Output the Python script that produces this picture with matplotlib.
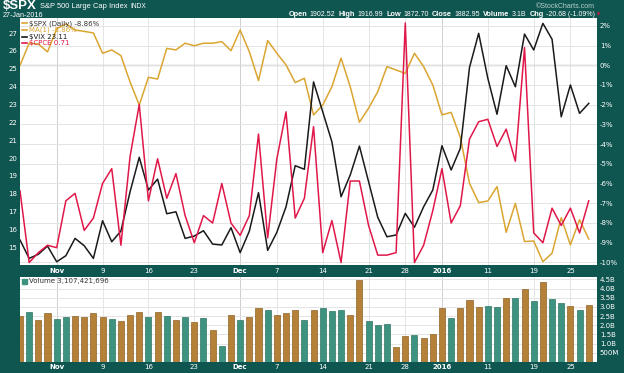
import numpy as np
import pandas as pd
import matplotlib
matplotlib.use("Agg")
import matplotlib.pyplot as plt

# ---- data ----
holidays = ["2015-11-26", "2015-12-25", "2016-01-01", "2016-01-18"]
dates = pd.bdate_range("2015-10-27", "2016-01-27")
dates = dates[~dates.isin(pd.to_datetime(holidays))]

# $SPX performance (%) since Oct 27
spx_pct = [0.0, 1.12, 1.08, 0.68, 1.85, 2.10, 1.79, 1.72, 1.64, 0.61,
           0.78, 0.49, -0.85, -2.02, -0.61, -0.70, 0.86, 0.78, 1.12, 0.99,
           1.12, 1.12, 1.20, 0.74, 1.79, 0.69, -0.78, 1.25, 0.61, 0.02,
           -0.88, -0.66, -2.52, -2.02, -1.09, 0.36, -1.09, -2.89, -2.18, -1.34,
           -0.07, -0.24, -0.41, 0.61, -0.07, -1.00, -2.52, -2.39, -3.66, -5.99,
           -6.97, -6.89, -6.16, -8.48, -7.01, -8.95, -8.92, -9.97, -9.54, -7.74,
           -9.12, -7.84, -8.82]

vix = [15.41, 14.38, 14.61, 15.07, 14.19, 14.53, 15.50, 15.09, 14.38, 16.49,
       15.31, 15.91, 18.11, 20.04, 18.21, 18.82, 16.88, 16.99, 15.50, 15.63,
       15.93, 15.18, 15.13, 16.10, 14.70, 15.91, 18.06, 14.83, 15.84, 17.27,
       19.57, 19.37, 24.26, 22.59, 20.91, 17.83, 19.05, 20.67, 18.67, 16.68,
       15.59, 15.69, 16.90, 16.12, 17.27, 18.21, 20.69, 19.33, 20.54, 25.07,
       26.98, 24.46, 22.45, 25.17, 23.99, 26.94, 26.05, 27.54, 26.65, 22.31,
       24.09, 22.50, 23.06]

cpce = [0.75, 0.46, 0.50, 0.53, 0.52, 0.71, 0.74, 0.59, 0.64, 0.78,
        0.84, 0.53, 0.89, 1.10, 0.71, 0.88, 0.72, 0.82, 0.65, 0.54,
        0.65, 0.62, 0.78, 0.62, 0.57, 0.65, 0.98, 0.56, 0.88, 1.07,
        0.64, 0.72, 1.01, 0.50, 0.63, 0.46, 0.79, 0.79, 0.61, 0.49,
        0.49, 0.50, 1.43, 0.46, 0.53, 0.67, 0.84, 0.62, 0.69, 0.96,
        1.03, 1.04, 0.93, 1.00, 0.87, 1.33, 0.58, 0.54, 0.68, 0.61,
        0.68, 0.58, 0.71]

# volume in billions, direction of the day (u = up, d = down)
volume_b = [2.51, 2.74, 2.29, 2.66, 2.35, 2.47, 2.51, 2.47, 2.67, 2.47,
            2.36, 2.24, 2.55, 2.74, 2.47, 2.74, 2.51, 2.29, 2.47, 2.20,
            2.40, 1.73, 0.86, 2.55, 2.31, 2.47, 2.93, 2.82, 2.58, 2.66,
            2.82, 2.29, 2.82, 2.95, 2.78, 2.82, 2.57, 4.47, 2.26, 2.04,
            2.08, 0.79, 1.42, 1.46, 1.30, 1.53, 2.93, 2.42, 2.93, 3.36,
            3.00, 3.07, 3.00, 3.49, 3.49, 3.99, 3.33, 4.34, 3.42, 3.22,
            3.04, 2.82, 3.13]
vol_dir = ["d", "u", "d", "d", "u", "u", "d", "d", "d", "d",
           "u", "d", "d", "d", "u", "d", "u", "d", "u", "d",
           "u", "d", "u", "d", "u", "d", "d", "u", "d", "d",
           "d", "u", "d", "u", "u", "u", "d", "d", "u", "u",
           "u", "d", "d", "u", "d", "d", "d", "u", "d", "d",
           "d", "u", "u", "d", "u", "d", "u", "d", "u", "u",
           "d", "u", "d"]

tick_dates = ["2015-11-02", "2015-11-09", "2015-11-16", "2015-11-23", "2015-12-01",
              "2015-12-07", "2015-12-14", "2015-12-21", "2015-12-28", "2016-01-04",
              "2016-01-11", "2016-01-19", "2016-01-25"]
tick_labels = ["Nov", "9", "16", "23", "Dec", "7", "14", "21", "28", "2016", "11", "19", "25"]
bold_labels = {"Nov", "Dec", "2016"}

header_stats = [("Open", "1902.52"), ("High", "1916.99"), ("Low", "1872.70"),
                ("Close", "1882.95"), ("Volume", "3.1B"), ("Chg", "-20.68 (-1.09%)")]

# ---- styling ----
BG = "#0f5550"
GOLD = "#dba531"
RED = "#e0184a"
BLACK = "#1a1a1a"
UP = "#3e9380"
DOWN = "#b58139"
GRID = "#e4e4e4"
HF = "Liberation Sans"

W, H = 624, 373
fig = plt.figure(figsize=(W / 100, H / 100), dpi=100, facecolor=BG)
renderer = fig.canvas.get_renderer()


def box(l, t, r, b):
    return [l / W, 1 - b / H, (r - l) / W, (b - t) / H]


def put(xp, yp, txt, **kw):
    # place text at pixel position, return its right edge in pixels
    t = fig.text(xp / W, 1 - yp / H, txt, va="center", ha="left", **kw)
    return t.get_window_extent(renderer).x1


x = np.arange(len(dates)) - 4
pos = {d.strftime("%Y-%m-%d"): xi for d, xi in zip(dates, x)}
tick_pos = [pos[d] for d in tick_dates]
xlim = (-4, 58.9)

# ---- main price panel ----
ax = fig.add_axes(box(20, 18, 597, 265))
ax.set_facecolor("white")
ax.set_xlim(*xlim)
ax.set_ylim(-10.14, 2.40)

ax_v = ax.twinx()
ax_v.set_ylim(14.01, 27.84)
ax_c = ax.twinx()
ax_c.set_ylim(0.45, 1.45)
ax_c.set_yticks([])

pct_ticks = list(range(2, -11, -1))
ax.yaxis.tick_right()
ax.set_yticks(pct_ticks)
ax.set_yticklabels([f"{t}%" for t in pct_ticks])
ax_v.yaxis.tick_left()
ax_v.set_yticks(range(15, 28))

ax.grid(True, axis="y", color=GRID, lw=0.7)
ax.axhline(0, color="#9a9a9a", lw=0.9, zorder=1)
for tp, tl in zip(tick_pos, tick_labels):
    ax.axvline(tp, color="#cfcfcf" if tl in bold_labels else GRID, lw=0.7, zorder=0)
ax.set_xticks(tick_pos)
ax.set_xticklabels(tick_labels)

ax.plot(x, spx_pct, color=GOLD, lw=1.1, zorder=3)
ax_v.plot(x, vix, color=BLACK, lw=1.1, zorder=4)
ax_c.plot(x, cpce, color=RED, lw=1.1, zorder=5)

for a in (ax, ax_v, ax_c):
    for s in a.spines.values():
        s.set_visible(False)
    a.tick_params(length=0, labelsize=5, labelcolor="white", pad=2)
ax.tick_params(axis="x", pad=2.5)

for lab in ax.get_xticklabels():
    if lab.get_text() in bold_labels:
        lab.set_fontweight("bold")

# legend
leg = [("$SPX (Daily) -8.86%", GOLD, "#333333"),
       ("MA(1) -8.86%", GOLD, GOLD),
       ("$VIX 23.11", BLACK, BLACK),
       ("$CPCE 0.71", RED, RED)]
for k, (txt, lc, tc) in enumerate(leg):
    yy = 23.3 + k * 6.6
    fig.add_artist(plt.Line2D([22 / W, 27 / W], [1 - yy / H] * 2, color=lc, lw=1.2))
    put(29, yy, txt, color=tc, fontsize=5)

# ---- volume panel ----
axv = fig.add_axes(box(20, 277, 597, 362))
axv.set_facecolor("white")
axv.set_xlim(*xlim)
axv.set_ylim(0, 4.63)
colors = [UP if d == "u" else DOWN for d in vol_dir]
edges = ["#2f7565" if d == "u" else "#8f6428" for d in vol_dir]
axv.bar(x, volume_b, width=0.66, color=colors, edgecolor=edges, lw=0.5, zorder=3)
vt = [0.5, 1.0, 1.5, 2.0, 2.5, 3.0, 3.5, 4.0, 4.5]
axv.yaxis.tick_right()
axv.set_yticks(vt)
axv.set_yticklabels(["500M"] + [f"{v:.1f}B" for v in vt[1:]])
axv.grid(True, axis="y", color=GRID, lw=0.7)
for tp, tl in zip(tick_pos, tick_labels):
    axv.axvline(tp, color="#cfcfcf" if tl in bold_labels else GRID, lw=0.7, zorder=0)
axv.set_xticks(tick_pos)
axv.set_xticklabels(tick_labels)
for s in axv.spines.values():
    s.set_visible(False)
axv.tick_params(length=0, labelsize=5, labelcolor="white", pad=2)
axv.tick_params(axis="x", pad=1.5)
for lab in axv.get_xticklabels():
    if lab.get_text() in bold_labels:
        lab.set_fontweight("bold")
put(29, 281.5, "Volume 3,107,421,696", color="#333333", fontsize=5)
fig.add_artist(plt.Rectangle((22 / W, 1 - 284 / H), 5 / W, 5 / H, color=UP))

# ---- header ----
xe = put(3, 6, "$SPX", color="white", fontsize=9.5, fontweight="bold", family=HF)
xe = put(xe + 3, 6.5, "S&P 500 Large Cap Index", color="white", fontsize=5.4, family=HF)
put(xe + 3, 6.5, "INDX", color="white", fontsize=4.8, family=HF)
put(3, 15.5, "27-Jan-2016", color="white", fontsize=5.2, family=HF)
fig.text(595 / W, 1 - 6 / H, "\u00a9StockCharts.com", color="#b8cfcc", fontsize=5,
         va="center", ha="right", family=HF)

xe = 289
for lab, val in header_stats:
    xe = put(xe, 15, lab, color="white", fontsize=5.3, fontweight="bold", family=HF)
    xe = put(xe + 2, 15, val, color="white", fontsize=5.0, family=HF) + 3.5
put(xe - 1.5, 15, "\u25bc", color=RED, fontsize=3)

fig.savefig("out.png", dpi=100, facecolor=BG)
